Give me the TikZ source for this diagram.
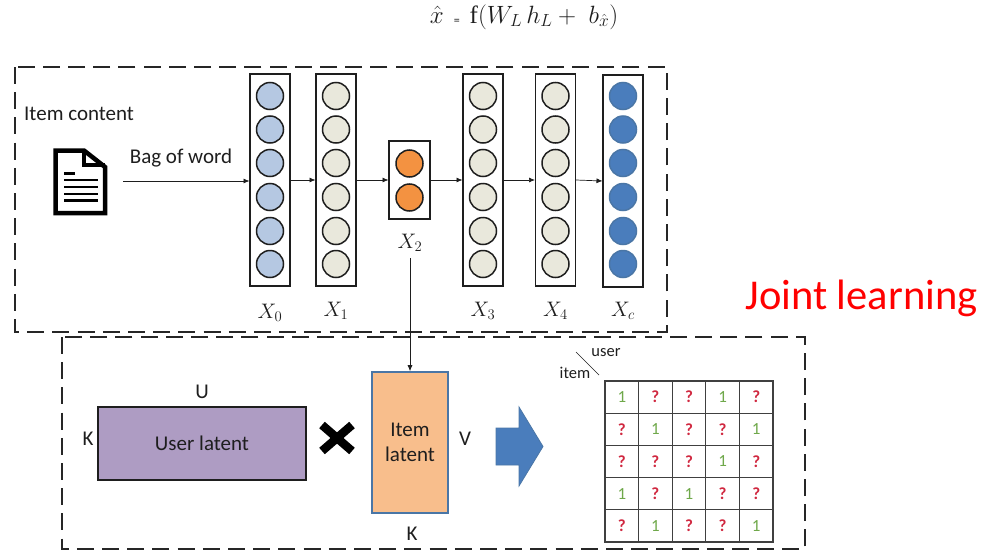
\documentclass[tikz,border=0pt]{standalone}
\usepackage{fix-cm}
\usepackage{fontspec}
\setmainfont{Carlito}
\newfontfamily\fnfont{Liberation Serif}
\usetikzlibrary{arrows.meta,shapes.arrows,shapes.misc}
\definecolor{inkc}{HTML}{1E1E1E}
\definecolor{dashc}{HTML}{262626}
\definecolor{inblue}{HTML}{B5C8E2}
\definecolor{hidc}{HTML}{E9E8DC}
\definecolor{orangec}{HTML}{F39241}
\definecolor{outblue}{HTML}{4A7DBC}
\definecolor{purplec}{HTML}{AE9CC3}
\definecolor{peachc}{HTML}{F8BE8C}
\definecolor{edgeblue}{HTML}{4A76A6}
\definecolor{okgreen}{HTML}{6FA84A}
\definecolor{qred}{HTML}{D02840}
\tikzset{
  x=1pt,y=-1pt,
  dashbox/.style={draw=dashc,line width=2pt,dash pattern=on 17pt off 8.2pt},
  colbox/.style={draw=inkc,line width=1.7pt,fill=white,minimum width=40pt,inner sep=0pt,outer sep=0.5pt},
  neuron/.style={circle,draw=#1,line width=1.5pt,minimum size=27pt,inner sep=0pt},
  link/.style={draw=inkc,line width=0.7pt,-{Latex[length=6pt,width=5pt]}},
  label/.style={text=inkc,font=\fontsize{21}{24}\selectfont,inner sep=0pt},
  mlabel/.style={text=inkc,font=\fontsize{21}{24}\selectfont,inner sep=0pt},
  cell/.style={draw=inkc!85,line width=1.2pt,minimum width=33.6pt,minimum height=32.2pt,inner sep=0pt,font=\fontsize{17}{18}\selectfont},
  one/.style={cell,text=okgreen},
  unk/.style={cell,text=qred,font=\fontsize{17}{18}\selectfont\bfseries},
  latent/.style={inner sep=0pt,align=center,text=inkc,font=\fontsize{21}{25}\selectfont},
}
\begin{document}
\begin{tikzpicture}
\useasboundingbox (0,0) rectangle (992,554);
\node[text=inkc,font=\fontsize{25}{28}\selectfont,inner sep=0pt] (formula) at (524,17) {$\hat{x}$\hspace{10pt}\raisebox{-1pt}{\fontsize{12}{12}\selectfont=}\hspace{10pt}{\fnfont f}$(W_L\,h_L+\;b_{\hat{x}})$};
\draw[dashbox] (15,67) rectangle (667,332);
\draw[dashbox] (62,337) rectangle (805,549);

% columns
\node[colbox,minimum height=212pt] (c0) at (270,180) {};
\node[colbox,minimum height=212pt] (c1) at (336,180) {};
\node[colbox,minimum height=78pt,minimum width=41pt] (c2) at (409.5,180) {};
\node[colbox,minimum height=212pt] (c3) at (483,180) {};
\node[colbox,minimum height=212pt] (c4) at (555.5,180) {};
\node[colbox,minimum height=212pt] (c5) at (623,181) {};
\foreach \yy [count=\i] in {96,129.5,163,197,231,264}{
  \node[neuron=inkc,fill=inblue] (a\i) at (270,\yy) {};
  \node[neuron=inkc,fill=hidc] (b\i) at (336,\yy) {};
  \node[neuron=inkc,fill=hidc] (d\i) at (483,\yy) {};
  \node[neuron=inkc,fill=hidc] (e\i) at (555.5,\yy) {};
  \node[neuron=edgeblue,fill=outblue] (f\i) at (623,\yy) {};
}
\node[neuron=inkc,fill=orangec] (o1) at (409.5,163.5) {};
\node[neuron=inkc,fill=orangec] (o2) at (409.5,197.5) {};

% column labels
\node[mlabel] (l0) at (270,313) {$X_0$};
\node[mlabel] (l1) at (336,311) {$X_1$};
\node[mlabel] (l2) at (410,243) {$X_2$};
\node[mlabel] (l3) at (483,311) {$X_3$};
\node[mlabel] (l4) at (555.5,311) {$X_4$};
\node[mlabel] (l5) at (623,311) {$X_c$};

\node[label,anchor=west] (content) at (24,113.5) {Item content};
\node[label] (bag) at (181,158) {Bag of word};
\node[font=\fontsize{42.5}{46}\selectfont,text=red,inner sep=0pt] (joint) at (861.5,298) {Joint learning};

% document icon
\begin{scope}[line width=4.5pt,draw=black,line join=miter]
\draw (55.5,150.5) -- (84,150.5) -- (105,167) -- (105,213) -- (55.5,213) -- cycle;
\draw[line width=3.5pt] (84,150.5) -- (84,165) -- (105,165);
\end{scope}
\draw[line width=2.4pt] (64,173.5) -- (75,173.5) (64,180) -- (97.5,180) (64,187) -- (97.5,187) (64,194) -- (97.5,194) (64,200.5) -- (97.5,200.5);
\coordinate (docout) at (123,181);

% connectors
\draw[link] (docout) -- (c0.west |- docout);
\draw[link] (c0.east) -- (c1.west);
\draw[link] (c1.east) -- (c2.west);
\draw[link] (c2.east) -- (c3.west);
\draw[link] (c3.east) -- (c4.west);
\draw[link] (c4.east) -- (c5.west);

% lower part
\node[draw=inkc,line width=1.8pt,fill=purplec,minimum width=208pt,minimum height=73pt,inner sep=0pt,latent] (user) at (202,443.5) {User latent};
\node[draw=edgeblue,line width=1.6pt,fill=peachc,minimum width=76pt,minimum height=141pt,inner sep=0pt,latent] (item) at (410,442.5) {Item\\[0pt]latent};
\draw[link] (l2.south |- 0,258) -- (item.north);
\node[label] (u) at (202,392) {U};
\node[label] (k1) at (88,439) {K};
\node[label] (v) at (465,439) {V};
\node[label] (k2) at (412,534) {K};

% multiply sign
\draw[line width=8.5pt] (322,425) -- (352,451) (352,425) -- (322,451);

% block arrow
\fill[fill=outblue,draw=edgeblue,line width=0.8pt] (496,428) -- (519,428) -- (519,407) -- (543,446.5) -- (519,486) -- (519,465) -- (496,465) -- cycle;

% matrix
\node[font=\fontsize{16.5}{18}\selectfont,text=inkc,inner sep=0pt] (userl) at (606,353) {user};
\node[font=\fontsize{16.5}{18}\selectfont,text=inkc,inner sep=0pt] (iteml) at (575,373) {item};
\draw[draw=inkc,line width=0.7pt] (576,352) -- (599,375);
\foreach \row [count=\r] in {{1,0,0,1,0},{0,1,0,0,1},{0,0,0,1,0},{1,0,1,0,0},{0,1,0,0,1}}{
  \foreach \v [count=\c] in \row {
    \pgfmathsetmacro{\cx}{605+33.6*(\c-0.5)}
    \pgfmathsetmacro{\cy}{381+32.2*(\r-0.5)}
    \ifnum\v=1
      \node[one] (m\r\c) at (\cx,\cy) {1};
    \else
      \node[unk] (m\r\c) at (\cx,\cy) {?};
    \fi
  }
}
\end{tikzpicture}
\end{document}
